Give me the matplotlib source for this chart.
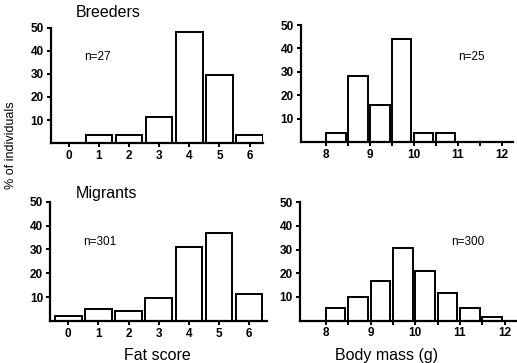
import matplotlib.pyplot as plt

# fat score histograms (% of individuals)
fat_scores = [0, 1, 2, 3, 4, 5, 6]
breeders_fat = [0, 3.7, 3.7, 11.1, 48.1, 29.6, 3.7]
migrants_fat = [2.1, 5.0, 4.3, 9.7, 31.0, 37.1, 11.2]

# body mass histograms, bins of 0.5 g starting at these edges
breeders_mass_bins = [8.0, 8.5, 9.0, 9.5, 10.0, 10.5]
breeders_mass = [4, 28, 16, 44, 4, 4]
migrants_mass_bins = [8.0, 8.5, 9.0, 9.5, 10.0, 10.5, 11.0, 11.5]
migrants_mass = [5.1, 10.0, 16.5, 30.8, 20.8, 11.8, 5.5, 1.3]

n_labels = ['n=27', 'n=25', 'n=301', 'n=300']

plt.rcParams['font.family'] = ['Liberation Sans', 'DejaVu Sans']

fig = plt.figure(figsize=(5.17, 3.63), dpi=100)


def style(ax):
  for s in ['top', 'right']:
    ax.spines[s].set_visible(False)
  for s in ['left', 'bottom']:
    ax.spines[s].set_linewidth(1.6)
  ax.set_ylim(0, 50)
  ax.set_yticks([10, 20, 30, 40, 50])
  ax.tick_params(axis='both', direction='out', width=1.4, length=3,
                 labelsize=8.5, pad=2)
  for lab in ax.get_xticklabels() + ax.get_yticklabels():
    lab.set_fontweight('bold')


def fat_panel(rect, values, label, label_y, xmax):
  ax = fig.add_axes(rect)
  ax.bar(fat_scores, values, width=0.88, color='white', edgecolor='black',
         linewidth=1.4)
  ax.set_xlim(-0.6, xmax)
  ax.set_xticks(fat_scores)
  style(ax)
  ax.text(0.5, label_y, label, fontsize=8.5)
  return ax


def mass_panel(rect, edges, values, label, lx, ly):
  ax = fig.add_axes(rect)
  ax.bar(edges, values, width=0.44, align='edge', color='white',
         edgecolor='black', linewidth=1.4)
  ax.set_xlim(7.42, 12.25)
  ax.set_xticks([8, 9, 10, 11, 12])
  ax.set_xticks([8.5, 9.5, 10.5, 11.5], minor=True)
  ax.tick_params(axis='x', which='minor', direction='out', width=1.4, length=3)
  style(ax)
  ax.text(lx, ly, label, fontsize=8.5)
  return ax


ax1 = fat_panel([0.098, 0.606, 0.411, 0.317], breeders_fat, n_labels[0], 36, 6.45)
ax2 = mass_panel([0.582, 0.609, 0.410, 0.322], breeders_mass_bins, breeders_mass,
                 n_labels[1], 11.0, 35)
ax3 = fat_panel([0.097, 0.116, 0.420, 0.328], migrants_fat, n_labels[2], 32, 6.6)
ax4 = mass_panel([0.580, 0.117, 0.418, 0.326], migrants_mass_bins, migrants_mass,
                 n_labels[3], 10.8, 32)

fig.text(0.147, 0.965, 'Breeders', fontsize=11.5, va='center')
fig.text(0.147, 0.468, 'Migrants', fontsize=11.5, va='center')
fig.text(0.305, 0.022, 'Fat score', fontsize=11.5, ha='center', va='center')
fig.text(0.748, 0.022, 'Body mass (g)', fontsize=11.5, ha='center', va='center')
fig.text(0.022, 0.60, '% of individuals', fontsize=9, rotation=90,
         ha='center', va='center')

fig.savefig('out.png', dpi=100)
